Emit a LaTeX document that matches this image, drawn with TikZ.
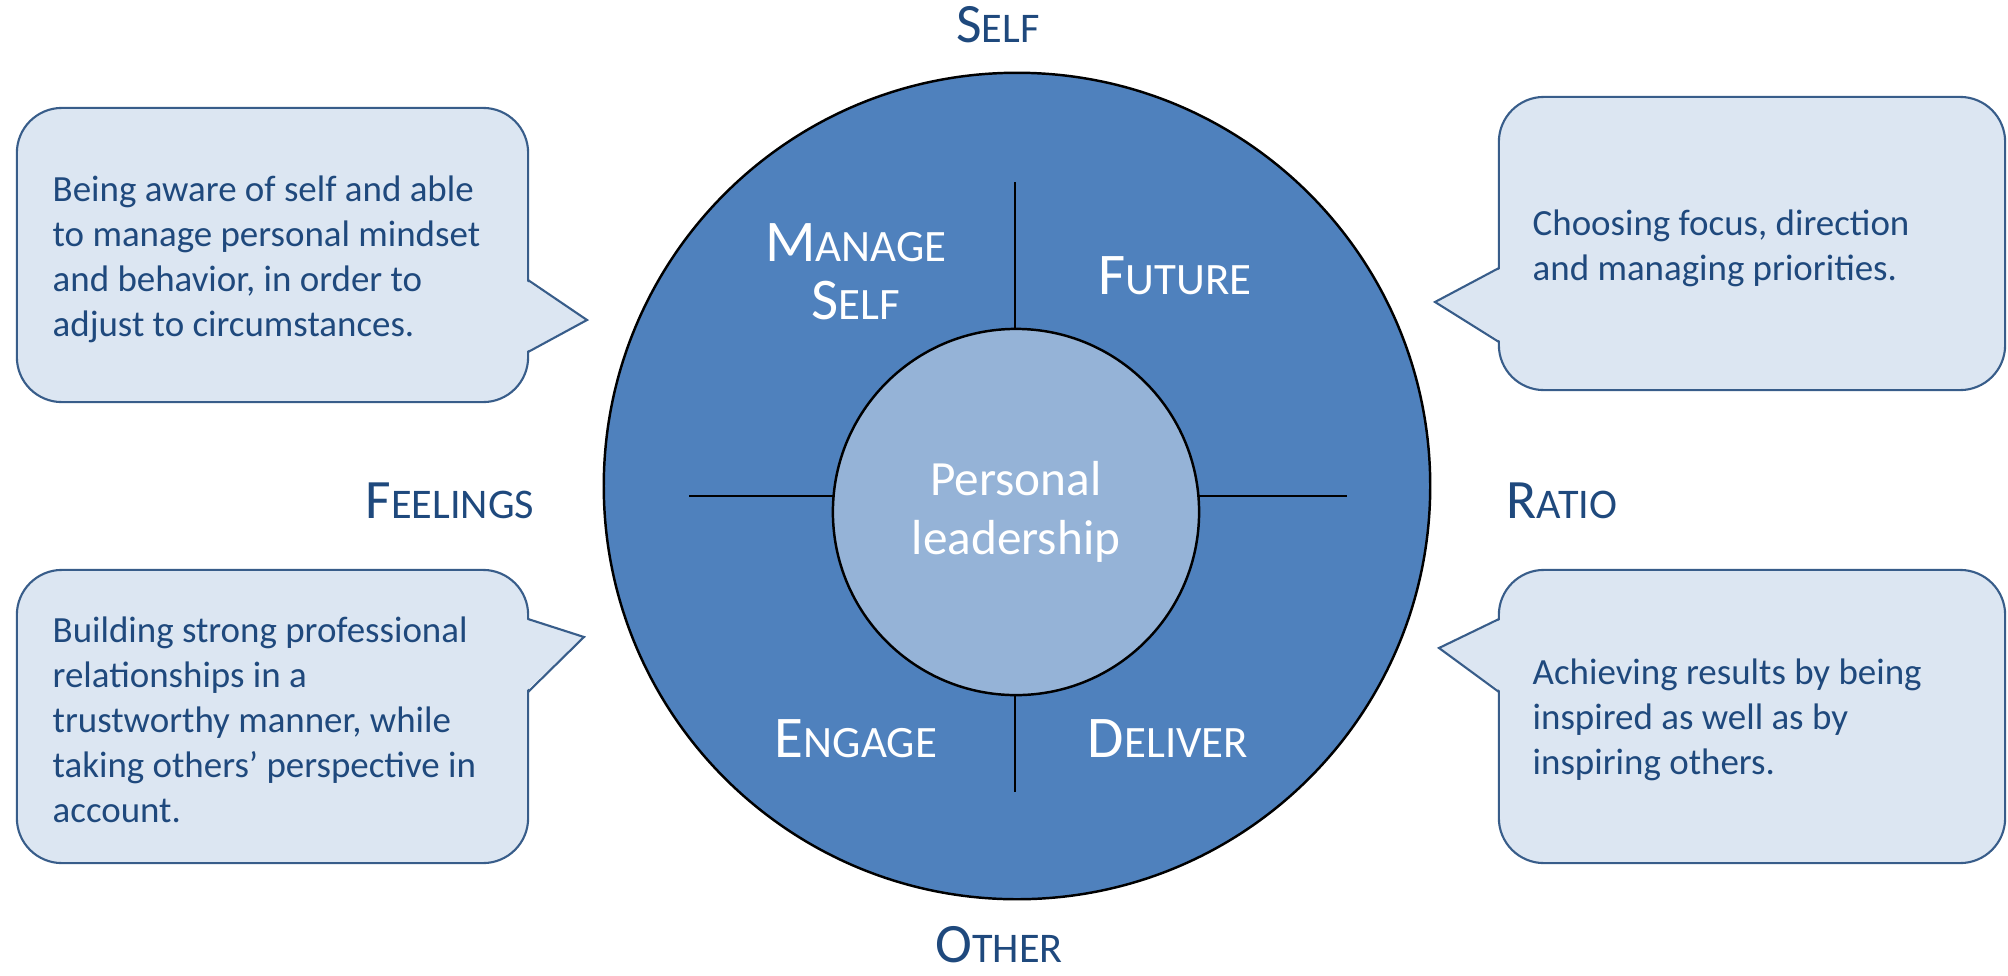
\documentclass[tikz,border=0pt]{standalone}
\usepackage{fontspec}
\setmainfont{Carlito}
\usepackage{graphicx}
\usetikzlibrary{positioning}
\definecolor{ringblue}{HTML}{4F81BD}
\definecolor{coreblue}{HTML}{95B3D7}
\definecolor{notefill}{HTML}{DCE6F2}
\definecolor{noteline}{HTML}{385D8A}
\definecolor{labelblue}{HTML}{1F497D}
\newcommand{\fakesc}[2]{#1\scalebox{0.76}{#2}}

\begin{document}
\begin{tikzpicture}[
  x=0.01cm, y=-0.01cm,
  ring/.style={circle, draw=black, line width=0.7pt, fill=ringblue, minimum size=8.26cm, inner sep=0pt},
  core/.style={circle, draw=black, line width=0.7pt, fill=coreblue, minimum size=3.66cm, inner sep=0pt, text=white, align=center, font=\fontsize{14}{16.6}\selectfont},
  divider/.style={draw=black, line width=0.6pt},
  quadrant/.style={text=white, align=center, inner sep=0pt, font=\fontsize{16.8}{16.5}\selectfont},
  axis/.style={text=labelblue, inner sep=0pt, anchor=base, font=\fontsize{15.8}{15.8}\selectfont},
  note/.style={draw=noteline, fill=notefill, line width=0.6pt, rounded corners=0.45cm, minimum width=5.11cm, minimum height=2.94cm, inner sep=0pt},
  notetext/.style={text=labelblue, align=left, anchor=west, inner sep=0pt, font=\fontsize{10.5}{12.8}\selectfont},
  tail/.style={draw=noteline, line width=0.6pt}
]
\useasboundingbox (0,0) rectangle (2008,975);

\node[ring] (ring) at (1017,486) {};
\draw[divider] (1015,182) -- (1015,400);
\draw[divider] (1015,600) -- (1015,792);
\draw[divider] (689,496) -- (900,496);
\draw[divider] (1130,496) -- (1347,496);
\node[core] (core) at (1016,512) {Personal\\leadership};

\node[quadrant] (manage) at (856,272) {\fakesc{M}{ANAGE}\\\fakesc{S}{ELF}};
\node[quadrant, anchor=base] (future) at (1175,294) {\fakesc{F}{UTURE}};
\node[quadrant, anchor=base] (engage) at (856,757) {\fakesc{E}{NGAGE}};
\node[quadrant, anchor=base] (deliver) at (1168,757) {\fakesc{D}{ELIVER}};

\node[axis] (self) at (998,42) {\fakesc{S}{ELF}};
\node[axis] (other) at (999,962) {\fakesc{O}{THER}};
\node[axis] (feelings) at (450,518) {\fakesc{F}{EELINGS}};
\node[axis] (ratio) at (1562,518) {\fakesc{R}{ATIO}};

\node[note] (selfnote) at (272.5,255) {};
\coordinate (selftip) at (587,320);
\fill[notefill] (525,280) -- (selftip) -- (525,352) -- cycle;
\draw[tail] (528,280) -- (selftip) -- (528,352);
\node[notetext] (selftext) at (52,259) {Being aware of self and able\\to manage personal mindset\\and behavior, in order to\\adjust to circumstances.};

\node[note, minimum width=5.06cm, minimum height=2.93cm] (futurenote) at (1752,243.5) {};
\coordinate (futuretip) at (1435,302);
\fill[notefill] (1502,268) -- (futuretip) -- (1502,342) -- cycle;
\draw[tail] (1499,268) -- (futuretip) -- (1499,342);
\node[notetext] (futuretext) at (1532,248) {Choosing focus, direction\\and managing priorities.};

\node[note, minimum height=2.93cm] (engagenote) at (272.5,716.5) {};
\coordinate (engagetip) at (584,637);
\fill[notefill] (525,619) -- (engagetip) -- (525,692) -- cycle;
\draw[tail] (528,619) -- (engagetip) -- (528,692);
\node[notetext] (engagetext) at (52,720) {Building strong professional\\relationships in a\\trustworthy manner, while\\taking others’ perspective in\\account.};

\node[note, minimum width=5.06cm, minimum height=2.93cm] (delivernote) at (1752,716.5) {};
\coordinate (delivertip) at (1439,648);
\fill[notefill] (1502,619) -- (delivertip) -- (1502,692) -- cycle;
\draw[tail] (1499,619) -- (delivertip) -- (1499,692);
\node[notetext] (delivertext) at (1532,720) {Achieving results by being\\inspired as well as by\\inspiring others.};

\end{tikzpicture}
\end{document}
